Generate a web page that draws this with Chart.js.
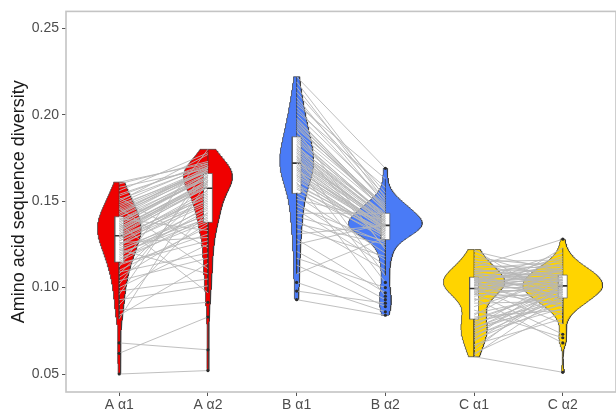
<!DOCTYPE html>
<html>
<head>
<meta charset="utf-8">
<script src="https://cdn.jsdelivr.net/npm/chart.js@4.4.1/dist/chart.umd.min.js"></script>
<style>
  html, body { margin: 0; padding: 0; background: #ffffff; overflow: hidden; }
  #wrap { width: 620px; height: 409px; }
</style>
</head>
<body>
<div id="wrap"><canvas id="chart" width="620" height="409"></canvas></div>
<script>
// Categories on the x axis, in drawing order
const categories = ['A α1', 'A α2', 'B α1', 'B α2', 'C α1', 'C α2'];
const yTicks = [0.05, 0.10, 0.15, 0.20, 0.25];

// Paired samples: index k of an α1 array and index k of the matching α2 array are the same sample
const aAlpha1 = [0.050, 0.062, 0.068, 0.082, 0.084, 0.087, 0.090, 0.093, 0.096, 0.098,
  0.100, 0.102, 0.104, 0.106, 0.108, 0.109, 0.110, 0.112, 0.113, 0.114,
  0.115, 0.116, 0.117, 0.118, 0.119, 0.120, 0.121, 0.122, 0.122, 0.123,
  0.124, 0.125, 0.125, 0.126, 0.127, 0.127, 0.128, 0.129, 0.129, 0.130,
  0.130, 0.131, 0.131, 0.132, 0.133, 0.133, 0.134, 0.134, 0.135, 0.135,
  0.136, 0.136, 0.137, 0.137, 0.138, 0.138, 0.139, 0.139, 0.140, 0.141,
  0.141, 0.142, 0.143, 0.143, 0.144, 0.145, 0.146, 0.146, 0.147, 0.148,
  0.149, 0.150, 0.151, 0.152, 0.153, 0.154, 0.156, 0.158, 0.160, 0.161];
const aAlpha2 = [0.052, 0.083, 0.064, 0.162, 0.114, 0.0915, 0.144, 0.101, 0.170, 0.105,
  0.125, 0.165, 0.117, 0.137, 0.157, 0.120, 0.135, 0.180, 0.131, 0.127,
  0.141, 0.145, 0.138, 0.147, 0.143, 0.139, 0.146, 0.140, 0.108, 0.142,
  0.151, 0.155, 0.148, 0.129, 0.153, 0.149, 0.156, 0.150, 0.154, 0.152,
  0.159, 0.161, 0.158, 0.162, 0.160, 0.158, 0.162, 0.159, 0.161, 0.160,
  0.164, 0.165, 0.097, 0.166, 0.164, 0.163, 0.166, 0.163, 0.133, 0.164,
  0.168, 0.169, 0.166, 0.170, 0.168, 0.167, 0.111, 0.168, 0.169, 0.167,
  0.171, 0.177, 0.170, 0.123, 0.172, 0.171, 0.178, 0.169, 0.173, 0.172];

const bAlpha1 = [0.093, 0.098, 0.103, 0.108, 0.113, 0.117, 0.121, 0.125, 0.128, 0.131,
  0.134, 0.137, 0.139, 0.141, 0.143, 0.145, 0.147, 0.149, 0.151, 0.153,
  0.155, 0.157, 0.158, 0.159, 0.160, 0.161, 0.162, 0.163, 0.164, 0.165,
  0.165, 0.166, 0.167, 0.168, 0.168, 0.169, 0.170, 0.170, 0.171, 0.172,
  0.172, 0.173, 0.174, 0.174, 0.175, 0.176, 0.176, 0.177, 0.178, 0.178,
  0.179, 0.180, 0.180, 0.181, 0.182, 0.183, 0.184, 0.185, 0.186, 0.187,
  0.188, 0.190, 0.191, 0.192, 0.193, 0.194, 0.195, 0.196, 0.197, 0.198,
  0.200, 0.202, 0.204, 0.206, 0.208, 0.210, 0.213, 0.216, 0.219, 0.222];
const bAlpha2 = [0.084, 0.091, 0.086, 0.129, 0.089, 0.100, 0.093, 0.137, 0.097, 0.136,
  0.118, 0.125, 0.110, 0.127, 0.143, 0.113, 0.126, 0.116, 0.139, 0.120,
  0.130, 0.132, 0.128, 0.133, 0.131, 0.095, 0.132, 0.129, 0.131, 0.130,
  0.134, 0.135, 0.133, 0.136, 0.135, 0.133, 0.103, 0.134, 0.135, 0.134,
  0.137, 0.138, 0.136, 0.139, 0.138, 0.107, 0.138, 0.136, 0.137, 0.139,
  0.140, 0.141, 0.140, 0.143, 0.140, 0.123, 0.142, 0.141, 0.142, 0.141,
  0.145, 0.147, 0.122, 0.148, 0.146, 0.144, 0.147, 0.144, 0.146, 0.145,
  0.151, 0.158, 0.149, 0.163, 0.153, 0.148, 0.155, 0.150, 0.152, 0.169];

const cAlpha1 = [0.060, 0.061, 0.062, 0.064, 0.066, 0.067, 0.069, 0.070, 0.071, 0.072,
  0.073, 0.074, 0.075, 0.076, 0.077, 0.077, 0.078, 0.079, 0.080, 0.081,
  0.082, 0.083, 0.084, 0.085, 0.087, 0.089, 0.091, 0.092, 0.093, 0.094,
  0.095, 0.096, 0.096, 0.097, 0.097, 0.098, 0.098, 0.099, 0.099, 0.099,
  0.100, 0.100, 0.101, 0.101, 0.101, 0.102, 0.102, 0.102, 0.103, 0.103,
  0.103, 0.104, 0.104, 0.104, 0.104, 0.105, 0.105, 0.105, 0.105, 0.106,
  0.106, 0.107, 0.107, 0.108, 0.108, 0.109, 0.109, 0.110, 0.110, 0.111,
  0.111, 0.112, 0.113, 0.114, 0.115, 0.116, 0.117, 0.119, 0.121, 0.122];
const cAlpha2 = [0.051, 0.096, 0.086, 0.103, 0.098, 0.082, 0.100, 0.091, 0.107, 0.094,
  0.088, 0.099, 0.093, 0.101, 0.095, 0.090, 0.105, 0.097, 0.092, 0.100,
  0.099, 0.087, 0.112, 0.096, 0.071, 0.105, 0.092, 0.123, 0.098, 0.068,
  0.102, 0.095, 0.117, 0.073, 0.100, 0.106, 0.090, 0.108, 0.097, 0.101,
  0.104, 0.079, 0.110, 0.099, 0.106, 0.118, 0.089, 0.102, 0.107, 0.096,
  0.114, 0.105, 0.084, 0.120, 0.100, 0.102, 0.110, 0.093, 0.108, 0.097,
  0.109, 0.103, 0.111, 0.094, 0.104, 0.113, 0.101, 0.110, 0.106, 0.115,
  0.103, 0.128, 0.111, 0.107, 0.116, 0.098, 0.112, 0.104, 0.109, 0.091];

const groups = [
  { first: aAlpha1, second: aAlpha2 },
  { first: bAlpha1, second: bAlpha2 },
  { first: cAlpha1, second: cAlpha2 }
];
const groupColors = ['#F00000', '#4A7BF6', '#FFD400'];

// ---- statistics helpers ----
function sortedCopy(v) { return v.slice().sort((a, b) => a - b); }
function quantile(s, p) {
  const h = (s.length - 1) * p, lo = Math.floor(h), hi = Math.min(lo + 1, s.length - 1);
  return s[lo] + (h - lo) * (s[hi] - s[lo]);
}
function stdev(v) {
  const m = v.reduce((a, b) => a + b, 0) / v.length;
  return Math.sqrt(v.reduce((a, b) => a + (b - m) * (b - m), 0) / (v.length - 1));
}
// Gaussian kernel density over the data range (bandwidth rule nrd0)
function density(values) {
  const s = sortedCopy(values), n = s.length;
  const lo = Math.min(stdev(s), (quantile(s, 0.75) - quantile(s, 0.25)) / 1.34);
  const bw = 0.9 * lo * Math.pow(n, -0.2);
  const ys = [], ds = [], steps = 256;
  for (let j = 0; j <= steps; j++) {
    const y = s[0] + (s[n - 1] - s[0]) * j / steps;
    let d = 0;
    for (const v of s) { const u = (y - v) / bw; d += Math.exp(-0.5 * u * u); }
    ys.push(y); ds.push(d / (n * bw * Math.sqrt(2 * Math.PI)));
  }
  return { ys, ds };
}
function boxStats(values) {
  const s = sortedCopy(values);
  const q1 = quantile(s, 0.25), med = quantile(s, 0.5), q3 = quantile(s, 0.75);
  const iqr = q3 - q1, loF = q1 - 1.5 * iqr, hiF = q3 + 1.5 * iqr;
  const inside = s.filter(v => v >= loF && v <= hiF);
  return { q1, med, q3, lo: inside[0], hi: inside[inside.length - 1],
           out: s.filter(v => v < loF || v > hiF) };
}

// ---- build datasets ----
const series = [aAlpha1, aAlpha2, bAlpha1, bAlpha2, cAlpha1, cAlpha2];
const dens = series.map(density);
const maxDens = Math.max(...dens.map(d => Math.max(...d.ds)));
const halfViolin = 0.45, halfBox = 0.05;
const datasets = [];

series.forEach((vals, i) => {
  const color = groupColors[Math.floor(i / 2)];
  const { ys, ds } = dens[i];
  const outline = [];
  for (let j = 0; j < ys.length; j++) outline.push({ x: i - halfViolin * ds[j] / maxDens, y: ys[j] });
  for (let j = ys.length - 1; j >= 0; j--) outline.push({ x: i + halfViolin * ds[j] / maxDens, y: ys[j] });
  outline.push(outline[0]);
  datasets.push({ data: outline, backgroundColor: color, borderColor: '#3a3a3a', borderWidth: 0.7,
                  fill: 'shape', pointRadius: 0, order: 50 });

  const b = boxStats(vals);
  datasets.push({ data: [{ x: i - halfBox, y: b.q1 }, { x: i + halfBox, y: b.q1 }, { x: i + halfBox, y: b.q3 },
                         { x: i - halfBox, y: b.q3 }, { x: i - halfBox, y: b.q1 }],
                  backgroundColor: '#ffffff', borderColor: '#555555', borderWidth: 0.7,
                  fill: 'shape', pointRadius: 0, order: 40 });
  datasets.push({ data: [{ x: i, y: b.q3 }, { x: i, y: b.hi }, { x: i, y: null }, { x: i, y: b.q1 }, { x: i, y: b.lo }],
                  borderColor: '#3a3a3a', borderWidth: 0.8, fill: false, pointRadius: 0, order: 39 });
  datasets.push({ data: [{ x: i - halfBox, y: b.med }, { x: i + halfBox, y: b.med }],
                  borderColor: '#333333', borderWidth: 1.6, fill: false, pointRadius: 0, order: 38 });
  datasets.push({ data: b.out.map(v => ({ x: i, y: v })), showLine: false, pointRadius: 1.6,
                  pointBackgroundColor: '#2b2b2b', pointBorderWidth: 0, order: 10 });
});

// Lines joining each sample's α1 value to its α2 value
groups.forEach((g, gi) => {
  const pts = [];
  g.first.forEach((v, k) => {
    pts.push({ x: 2 * gi, y: v }, { x: 2 * gi + 1, y: g.second[k] }, { x: 2 * gi + 0.5, y: null });
  });
  datasets.push({ data: pts, borderColor: 'rgba(182,182,182,0.88)', borderWidth: 1,
                  fill: false, pointRadius: 0, spanGaps: false, order: 20 });
});

const frame = {
  id: 'frame',
  afterDatasetsDraw(chart) {
    const { ctx, chartArea: a } = chart;
    ctx.save();
    ctx.strokeStyle = '#c4c4c4';
    ctx.lineWidth = 1.6;
    ctx.strokeRect(a.left, a.top, a.right - a.left, a.bottom - a.top);
    ctx.restore();
  }
};

const font = "'Liberation Sans', Arial, sans-serif";
new Chart(document.getElementById('chart'), {
  type: 'line',
  data: { datasets },
  plugins: [frame],
  options: {
    responsive: false,
    animation: false,
    devicePixelRatio: 1,
    layout: { padding: { top: 11, right: 2, left: 0, bottom: 0 } },
    elements: { line: { tension: 0 } },
    plugins: { legend: { display: false }, tooltip: { enabled: false } },
    scales: {
      x: {
        type: 'linear', min: -0.6, max: 5.6,
        afterBuildTicks: s => { s.ticks = categories.map((c, i) => ({ value: i })); },
        afterFit: s => { s.height = 17; },
        ticks: { callback: v => categories[v], color: '#4d4d4d', font: { family: font, size: 14 },
                 padding: 1, maxRotation: 0, autoSkip: false },
        grid: { display: true, drawOnChartArea: false, drawTicks: true, tickLength: 4, color: '#555555' },
        border: { display: false }
      },
      y: {
        type: 'linear', min: 0.0396, max: 0.2598,
        afterBuildTicks: s => { s.ticks = yTicks.map(v => ({ value: v })); },
        afterFit: s => { s.width = 66; },
        ticks: { callback: v => v.toFixed(2), color: '#4d4d4d', font: { family: font, size: 14 }, padding: 3 },
        grid: { display: true, drawOnChartArea: false, drawTicks: true, tickLength: 4, color: '#555555' },
        border: { display: false },
        title: { display: true, text: 'Amino acid sequence diversity', color: '#1a1a1a',
                 font: { family: font, size: 18 }, padding: { top: 8, bottom: 0 } }
      }
    }
  }
});
</script>
</body>
</html>
